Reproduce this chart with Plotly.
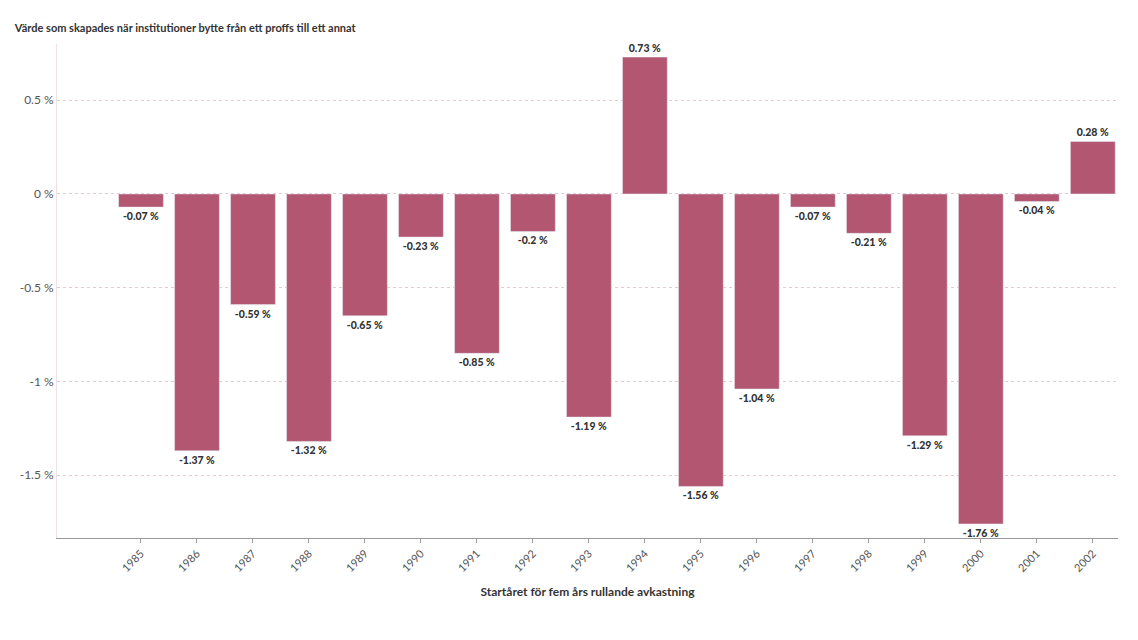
import plotly.graph_objects as go

years = list(range(1985, 2003))
values = [-0.07, -1.37, -0.59, -1.32, -0.65, -0.23, -0.85, -0.2, -1.19, 0.73,
          -1.56, -1.04, -0.07, -0.21, -1.29, -1.76, -0.04, 0.28]
labels = [f"{v:g} %" for v in values]

title = "Värde som skapades när institutioner bytte från ett proffs till ett annat"
xtitle = "Startåret för fem års rullande avkastning"
source = ("Källa: Stewart, S. D., Neumann, J. J., Knittel, C. R., & Heisler, J. (2009). Absence of value: An analysis of investment allocation decisions by institutional plan sponsors. Financial Analysts Journal, 65(6), 34-51 • Bara i två av 18 år bidrog ett beslut att byta förvaltare / produkt / investering med"
          "<br>ett värde de kommande fem åren. Slutsats: proffs är lika dåliga på att identifera andra proffs som är bättre än marknaden i snitt.")

fig = go.Figure(go.Bar(
    x=years, y=values, text=labels, textposition="outside",
    marker=dict(color="#b35672"), width=0.8,
    textfont=dict(size=10.5, color="#333333", family="Lato Black, Lato"),
    cliponaxis=False,
))

fig.update_layout(
    width=1138, height=640,
    paper_bgcolor="white", plot_bgcolor="white",
    font=dict(family="Lato", color="#444444", size=12),
    title=dict(text="<b>" + title + "</b>", x=0.006, y=0.975, xanchor="left",
               font=dict(size=11, color="#333333")),
    margin=dict(l=47, r=28, t=36, b=110),
    showlegend=False,
    xaxis=dict(range=[1983.5, 2002.45], tickmode="array", tickvals=years,
               ticktext=[str(y) for y in years], tickangle=-45,
               ticks="outside", ticklen=4, tickcolor="#999999",
               showline=True, linecolor="#999999", showgrid=False,
               tickfont=dict(size=11, color="#555555"),
               title=dict(text="<b>" + xtitle + "</b>", font=dict(size=12, color="#333333"), standoff=14)),
    yaxis=dict(range=[-1.835, 0.8], tickvals=[0.5, 0, -0.5, -1, -1.5],
               ticktext=["0.5 %", "0 %", "-0.5 %", "-1 %", "-1.5 %"],
               showgrid=True, gridcolor="#e8c8cf", griddash="dot",
               zeroline=False, showline=True, linecolor="#f0e0e3",
               tickfont=dict(size=12, color="#555555")),
)

fig.add_annotation(text=source, x=-0.036, y=-0.2, xref="paper", yref="paper",
                   xanchor="left", yanchor="top", align="left", showarrow=False,
                   font=dict(size=8.4, color="#444444"))

fig.write_html("out.html")
